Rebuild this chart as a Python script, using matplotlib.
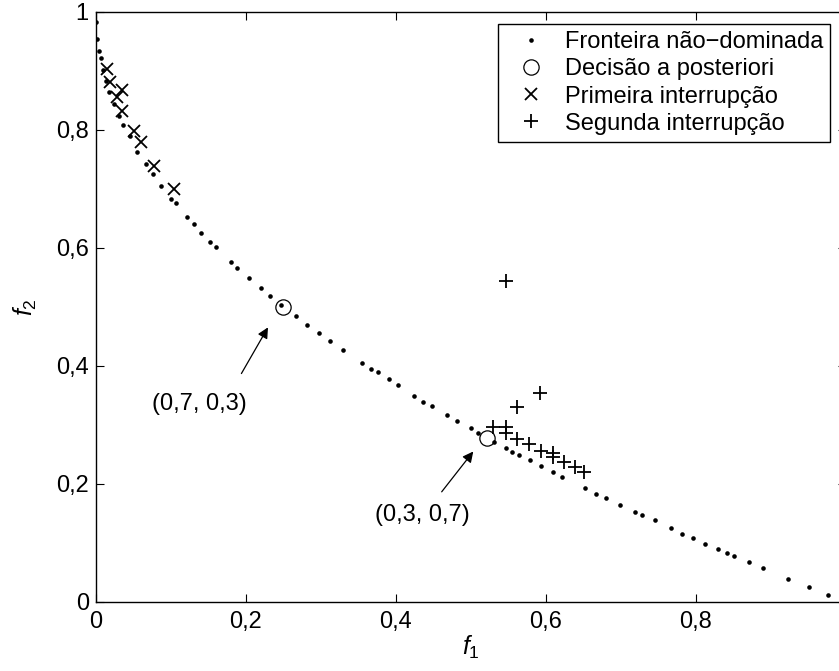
import numpy as np
import matplotlib
matplotlib.use("Agg")
import matplotlib.pyplot as plt

plt.rcParams["font.family"] = ["Liberation Sans", "DejaVu Sans"]
plt.rcParams["mathtext.fontset"] = "custom"
plt.rcParams["mathtext.it"] = "Liberation Sans:italic"
plt.rcParams["mathtext.rm"] = "Liberation Sans"

# fronteira não-dominada (f1, f2)
front_f1 = [0.0, 0.0017, 0.004, 0.0067, 0.0097, 0.0137, 0.018, 0.0248, 0.031, 0.037,
            0.0457, 0.055, 0.0667, 0.076, 0.087, 0.10, 0.107, 0.122, 0.131, 0.1404,
            0.1528, 0.16, 0.18, 0.1888, 0.2044, 0.2208, 0.2324, 0.2467, 0.2675, 0.2817,
            0.2977, 0.3124, 0.3297, 0.3547, 0.3667, 0.376, 0.3907, 0.4035, 0.424, 0.4368,
            0.4484, 0.4688, 0.4821, 0.5004, 0.5093, 0.5315, 0.5467, 0.5551, 0.564, 0.5791,
            0.5933, 0.6097, 0.6217, 0.6528, 0.6675, 0.68, 0.6991, 0.7195, 0.7284, 0.7453,
            0.7671, 0.7817, 0.7964, 0.812, 0.8293, 0.8417, 0.851, 0.8707, 0.8901, 0.9235,
            0.9507, 0.9768]
front_f2 = [0.982, 0.953, 0.933, 0.921, 0.901, 0.883, 0.864, 0.844, 0.823, 0.808,
            0.790, 0.763, 0.741, 0.725, 0.705, 0.683, 0.675, 0.652, 0.640, 0.6254,
            0.6097, 0.6007, 0.5763, 0.5661, 0.5492, 0.5312, 0.5186, 0.5034, 0.4837, 0.4695,
            0.4549, 0.4413, 0.4261, 0.4046, 0.3944, 0.3888, 0.3775, 0.3673, 0.3492, 0.3385,
            0.3322, 0.3164, 0.3068, 0.2944, 0.2864, 0.2712, 0.261, 0.2542, 0.2486, 0.2402,
            0.23, 0.2193, 0.2119, 0.1922, 0.1825, 0.1753, 0.1644, 0.1515, 0.1464, 0.138,
            0.1244, 0.1153, 0.1074, 0.0983, 0.0888, 0.0825, 0.0775, 0.0668, 0.0576, 0.039,
            0.0254, 0.0119]

# decisão a posteriori
post_f1 = [0.25, 0.5213]
post_f2 = [0.50, 0.278]

# primeira interrupção
first_f1 = [0.0155, 0.019, 0.035, 0.029, 0.035, 0.051, 0.06, 0.078, 0.105]
first_f2 = [0.902, 0.880, 0.867, 0.856, 0.831, 0.798, 0.779, 0.739, 0.699]

# segunda interrupção
second_f1 = [0.5467, 0.5924, 0.5621, 0.5301, 0.5467, 0.5467, 0.5621, 0.5777, 0.5933,
             0.6093, 0.6093, 0.6244, 0.6391, 0.6511]
second_f2 = [0.5438, 0.3542, 0.3305, 0.2966, 0.2966, 0.2854, 0.2752, 0.2667, 0.2559,
             0.2515, 0.2458, 0.2363, 0.2288, 0.2203]

ticks = [0, 0.2, 0.4, 0.6, 0.8, 1]
tick_labels = ["0", "0,2", "0,4", "0,6", "0,8", "1"]

fig = plt.figure(figsize=(8.39, 6.71), dpi=100)
ax = fig.add_axes([0.1141, 0.1033, 0.8939, 0.8793])

ax.plot(front_f1, front_f2, "o", color="k", ms=3.3, mew=0, ls="none",
        label="Fronteira não\u2212dominada")
ax.plot(post_f1, post_f2, "o", mfc="none", mec="k", ms=11, mew=0.9, ls="none",
        label="Decisão a posteriori")
ax.plot(first_f1, first_f2, "x", color="k", ms=8.5, mew=1.3, ls="none",
        label="Primeira interrupção")
ax.plot(second_f1, second_f2, "+", color="k", ms=10, mew=1.3, ls="none",
        label="Segunda interrupção")

# anotações
ax.annotate("", xy=(0.2315, 0.469), xytext=(0.1924, 0.3826),
            arrowprops=dict(arrowstyle="-|>", color="k", lw=0.9, mutation_scale=16))
ax.text(0.1376, 0.3343, "(0,7, 0,3)", ha="center", va="center", fontsize=17)
ax.annotate("", xy=(0.5057, 0.2583), xytext=(0.459, 0.1825),
            arrowprops=dict(arrowstyle="-|>", color="k", lw=0.9, mutation_scale=16))
ax.text(0.4355, 0.1471, "(0,3, 0,7)", ha="center", va="center", fontsize=17)

ax.set_xlim(0, 1)
ax.set_ylim(0, 1)
ax.set_xticks(ticks)
ax.set_xticklabels(tick_labels)
ax.set_yticks(ticks)
ax.set_yticklabels(tick_labels)
ax.tick_params(direction="in", length=6, width=0.8, labelsize=17,
               top=True, right=True)
ax.tick_params(axis="x", pad=7)
ax.tick_params(axis="y", pad=5)
for s in ax.spines.values():
    s.set_linewidth(1.0)

ax.set_xlabel(r"$\mathit{f_1}$", fontsize=18, labelpad=0)
ax.set_ylabel(r"$\mathit{f_2}$", fontsize=18, labelpad=12)

leg = ax.legend(loc="upper right", bbox_to_anchor=(0.979, 0.979), fontsize=17,
                frameon=True, fancybox=False, edgecolor="k", framealpha=1,
                borderpad=0.3, labelspacing=0.22, handlelength=2.2,
                handletextpad=0.3, borderaxespad=0)
leg.get_frame().set_linewidth(1.0)

fig.savefig("out.png", dpi=100)
